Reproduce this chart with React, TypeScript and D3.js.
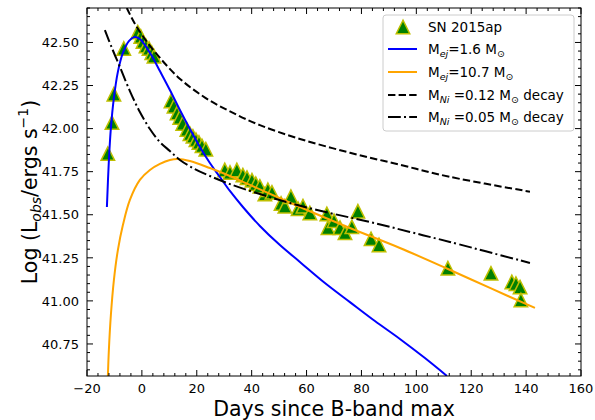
import React from "react";
import * as d3 from "d3";

const obsDays = [-12.4, -10.9, -10.2, -6.6, -1.5, -0.4, 0.4, 1.5, 2.6, 3.6, 4.4, 10.6, 11.7, 12.8, 13.8, 14.9, 16.4, 17.5, 18.6, 19.7, 20.8, 21.9, 23.3, 30.2, 32.1, 34.6, 36.8, 38.3, 40.1, 41.5, 43.0, 44.8, 45.9, 47.4, 50.7, 52.1, 54.3, 56.9, 58.7, 61.2, 67.4, 67.8, 70.0, 72.2, 74.0, 76.5, 78.7, 83.5, 86.4, 111.5, 127.2, 134.8, 136.3, 137.8, 138.1];
const obsLogL = [41.855, 42.035, 42.2, 42.465, 42.56, 42.535, 42.505, 42.48, 42.465, 42.44, 42.42, 42.16, 42.13, 42.09, 42.065, 42.03, 41.995, 41.97, 41.955, 41.935, 41.92, 41.9, 41.88, 41.76, 41.745, 41.76, 41.73, 41.715, 41.7, 41.68, 41.665, 41.62, 41.645, 41.63, 41.565, 41.55, 41.605, 41.535, 41.55, 41.51, 41.505, 41.425, 41.465, 41.425, 41.395, 41.43, 41.52, 41.36, 41.325, 41.19, 41.16, 41.11, 41.1, 41.08, 41.005];

const blueDays = [-12.75, -12.02, -11.3, -10.2, -8.75, -6.92, -4.74, -2.55, -0.73, 1.09, 3.64, 6.56, 10.2, 13.85, 17.49, 21.14, 24.78, 28.43, 32.07, 36.81, 43.0, 50.29, 57.58, 66.69, 75.8, 84.91, 94.02, 103.13, 111.15];
const blueLogL = [41.545, 41.818, 42.003, 42.178, 42.329, 42.439, 42.508, 42.532, 42.52, 42.485, 42.421, 42.334, 42.224, 42.108, 41.998, 41.893, 41.8, 41.719, 41.638, 41.545, 41.435, 41.324, 41.226, 41.104, 40.993, 40.883, 40.779, 40.668, 40.564];

const orangeDays = [-12.39, -12.03, -11.3, -10.2, -8.75, -6.92, -4.37, -0.73, 2.92, 6.56, 10.2, 13.12, 17.49, 24.78, 32.07, 39.36, 57.58, 75.8, 94.02, 111.52, 126.82, 143.22];
const orangeLogL = [40.564, 40.715, 40.918, 41.121, 41.295, 41.44, 41.586, 41.702, 41.76, 41.795, 41.818, 41.824, 41.812, 41.771, 41.725, 41.673, 41.545, 41.423, 41.307, 41.185, 41.075, 40.959];

const ni12Days = [-5.5, -2.6, 1.1, 6.6, 13.8, 23.0, 32.1, 43.0, 57.6, 75.8, 94.0, 112.2, 141.4];
const ni12LogL = [42.7, 42.61, 42.52, 42.41, 42.29, 42.18, 42.1, 42.02, 41.94, 41.86, 41.79, 41.72, 41.634];

const ni05Days = [-13.48, -10.93, -8.02, -4.37, -0.73, 2.92, 6.56, 10.2, 13.85, 19.31, 24.78, 32.07, 43.0, 53.94, 68.51, 83.09, 97.67, 112.24, 141.4];
const ni05LogL = [42.572, 42.468, 42.358, 42.218, 42.096, 41.998, 41.922, 41.87, 41.818, 41.765, 41.725, 41.678, 41.62, 41.568, 41.51, 41.458, 41.4, 41.342, 41.22];

const xTicks = [-20, 0, 20, 40, 60, 80, 100, 120, 140, 160];
const yTicks = [40.75, 41.0, 41.25, 41.5, 41.75, 42.0, 42.25, 42.5];

const W = 595, H = 420;
const L = 87, R = 581, T = 8, B = 376;
const FONT = "DejaVu Sans";

export default function App() {
  const x = d3.scaleLinear().domain([-20, 160]).range([L, R]);
  const y = d3.scaleLinear().domain([40.564, 42.70]).range([B, T]);

  const mk = (ds: number[], ls: number[]) =>
    d3.line<number>().x((_, i) => x(ds[i])).y((_, i) => y(ls[i])).curve(d3.curveCatmullRom.alpha(0.5))(ds) || "";

  const xMinor = d3.range(-20, 160.01, 4).filter(v => !xTicks.includes(Math.round(v)));
  const yMinor = d3.range(40.6, 42.70, 0.05).map(v => +v.toFixed(2)).filter(v => !yTicks.some(t => Math.abs(t - v) < 1e-6));

  const tri = (cx: number, cy: number, s: number) =>
    `M${cx},${cy - s / 2}L${cx - s / 2},${cy + s / 2}L${cx + s / 2},${cy + s / 2}Z`;

  const fmt = (v: number) => (v < 0 ? "\u2212" + Math.abs(v) : String(v));

  const legX = 383, legY = 15, legW = 191, legH = 116;
  const rows = [27, 49, 72, 95, 117];

  return (
    <svg width={W} height={H} style={{ position: "absolute", left: 0, top: 0, background: "#fff" }} fontFamily={FONT}>
      <defs>
        <clipPath id="plot"><rect x={L} y={T} width={R - L} height={B - T} /></clipPath>
      </defs>
      <g clipPath="url(#plot)">
        {obsDays.map((d, i) => (
          <path key={i} d={tri(x(d), y(obsLogL[i]), 13.5)} fill="#008000" stroke="#bfbf00" strokeWidth={1.5} />
        ))}
        <path d={mk(blueDays, blueLogL)} fill="none" stroke="#0000ff" strokeWidth={2} />
        <path d={mk(orangeDays, orangeLogL)} fill="none" stroke="#ffa500" strokeWidth={2} />
        <path d={mk(ni12Days, ni12LogL)} fill="none" stroke="#000" strokeWidth={2} strokeDasharray="7.4,3.2" />
        <path d={mk(ni05Days, ni05LogL)} fill="none" stroke="#000" strokeWidth={2} strokeDasharray="12.8,3.2,2,3.2" />
      </g>
      <rect x={L} y={T} width={R - L} height={B - T} fill="none" stroke="#000" strokeWidth={1} />
      {xTicks.map(t => (
        <g key={"xt" + t}>
          <line x1={x(t)} x2={x(t)} y1={B} y2={B - 6} stroke="#000" />
          <line x1={x(t)} x2={x(t)} y1={T} y2={T + 6} stroke="#000" />
          <text x={x(t)} y={393} fontSize={13} textAnchor="middle">{fmt(t)}</text>
        </g>
      ))}
      {xMinor.map(t => (
        <g key={"xm" + t}>
          <line x1={x(t)} x2={x(t)} y1={B} y2={B - 3} stroke="#000" />
          <line x1={x(t)} x2={x(t)} y1={T} y2={T + 3} stroke="#000" />
        </g>
      ))}
      {yTicks.map(t => (
        <g key={"yt" + t}>
          <line x1={L} x2={L + 6} y1={y(t)} y2={y(t)} stroke="#000" />
          <line x1={R} x2={R - 6} y1={y(t)} y2={y(t)} stroke="#000" />
          <text x={79} y={y(t) + 4.7} fontSize={13} textAnchor="end">{t.toFixed(2)}</text>
        </g>
      ))}
      {yMinor.map(t => (
        <g key={"ym" + t}>
          <line x1={L} x2={L + 3} y1={y(t)} y2={y(t)} stroke="#000" />
          <line x1={R} x2={R - 3} y1={y(t)} y2={y(t)} stroke="#000" />
        </g>
      ))}
      <text x={(L + R) / 2} y={416} fontSize={20.5} textAnchor="middle">Days since B-band max</text>
      <text transform={`translate(37,${(T + B) / 2}) rotate(-90)`} fontSize={20.5} textAnchor="middle">
        Log (L<tspan fontSize={14} fontStyle="italic" dy={4}>obs</tspan><tspan dy={-4}>/ergs s</tspan><tspan fontSize={14} dy={-9}>{"\u22121"}</tspan><tspan dy={9}>)</tspan>
      </text>
      <rect x={legX} y={legY} width={legW} height={legH} rx={3} fill="#fff" fillOpacity={0.8} stroke="#cccccc" strokeWidth={1} />
      <path d={tri(403, rows[0], 13.5)} fill="#008000" stroke="#bfbf00" strokeWidth={1.5} />
      <line x1={388} x2={417} y1={rows[1]} y2={rows[1]} stroke="#0000ff" strokeWidth={2} />
      <line x1={388} x2={417} y1={rows[2]} y2={rows[2]} stroke="#ffa500" strokeWidth={2} />
      <line x1={388} x2={417} y1={rows[3]} y2={rows[3]} stroke="#000" strokeWidth={2} strokeDasharray="7.4,3.2" />
      <line x1={388} x2={417} y1={rows[4]} y2={rows[4]} stroke="#000" strokeWidth={2} strokeDasharray="12.8,3.2,2,3.2" />
      <text x={428} y={rows[0] + 5} fontSize={13.5}>SN 2015ap</text>
      <text x={428} y={rows[1] + 5} fontSize={13.5}>
        M<tspan fontSize={9.5} fontStyle="italic" dy={3}>ej</tspan><tspan dy={-3}>=1.6 M</tspan><tspan fontSize={9.5} dy={3}>{"\u2299"}</tspan>
      </text>
      <text x={428} y={rows[2] + 5} fontSize={13.5}>
        M<tspan fontSize={9.5} fontStyle="italic" dy={3}>ej</tspan><tspan dy={-3}>=10.7 M</tspan><tspan fontSize={9.5} dy={3}>{"\u2299"}</tspan>
      </text>
      <text x={428} y={rows[3] + 5} fontSize={13.5}>
        M<tspan fontSize={9.5} fontStyle="italic" dy={3}>Ni</tspan><tspan dy={-3}> =0.12 M</tspan><tspan fontSize={9.5} dy={3}>{"\u2299"}</tspan><tspan dy={-3}> decay</tspan>
      </text>
      <text x={428} y={rows[4] + 5} fontSize={13.5}>
        M<tspan fontSize={9.5} fontStyle="italic" dy={3}>Ni</tspan><tspan dy={-3}> =0.05 M</tspan><tspan fontSize={9.5} dy={3}>{"\u2299"}</tspan><tspan dy={-3}> decay</tspan>
      </text>
    </svg>
  );
}
